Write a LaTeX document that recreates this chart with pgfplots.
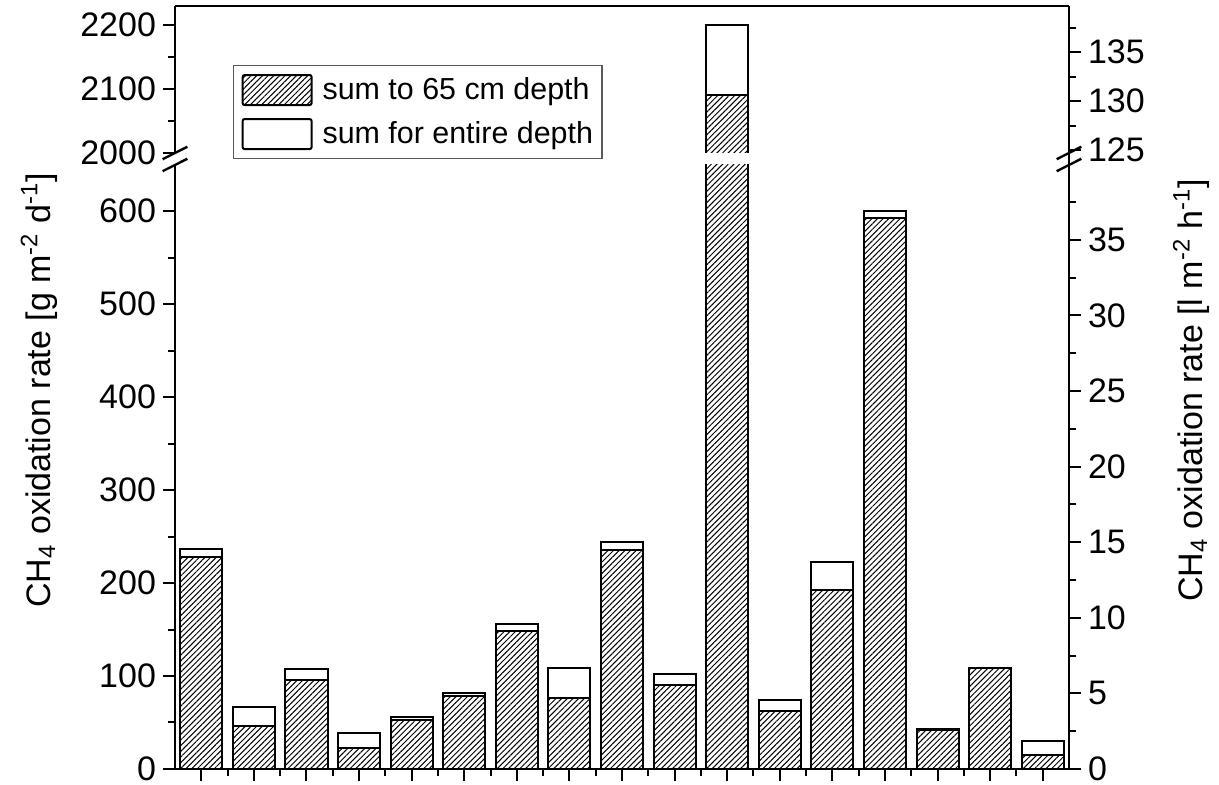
\documentclass[border=0pt]{standalone}
\usepackage{fontspec}
\setmainfont{Liberation Sans}
\usepackage{pgfplots}
\usepackage{pgfplotstable}
\pgfplotsset{compat=1.18}
\usetikzlibrary{patterns.meta}

\pgfplotstableread{
idx hatch total
0  227.6 237
1  46    67
2  95.4  108
3  22.6  38.7
4  53    56
5  79    82
6  148   156
7  76    109
8  236   243.7
9  90    102.5
10 2090  2200
11 62.7  74.5
12 193   223
13 593   600
14 41.6  43.4
15 109   109
16 15.4  29.8
}\datatable

% the one bar that reaches the upper (broken) part of the axis
\pgfplotstableread{
idx hatch total
10 2090  2200
}\bigbar

\tikzset{hatchfill/.style={pattern={Lines[angle=45,distance=2pt,line width=0.5pt]}, pattern color=black}}

\pgfplotsset{
  base/.style={
    scale only axis, width=447pt,
    xmin=-0.5, xmax=16.5,
    ybar, bar width=0.8,
    axis line style={-, line width=1.2pt},
    tick align=outside,
    major tick length=6pt, minor tick length=3.5pt,
    every tick/.style={black, line width=1pt},
    tick label style={font=\fontsize{17}{17}\selectfont},
    /pgf/number format/assume math mode=true,
    /pgf/number format/1000 sep={},
  },
}

\begin{document}
\begin{tikzpicture}
% lower left axis
\begin{axis}[base, at={(0,0)}, anchor=south west, height=302pt,
  ymin=0, ymax=649.5,
  axis x line*=bottom, axis y line*=left,
  tick align=outside,
  xtick={0,...,16}, xticklabels={}, minor xtick={0.5,1.5,...,15.5},
  ytick={0,100,...,600}, minor ytick={50,150,...,550},
  ylabel={CH\textsubscript{4} oxidation rate [g m\textsuperscript{-2} d\textsuperscript{-1}]},
  ylabel style={at={(axis description cs:-0.1398,0.627)}, anchor=base, font=\fontsize{17}{17}\selectfont},
]
\addplot[bar shift=0pt, fill=white, draw=black, line width=1pt] table[x=idx,y=total]{\datatable};
\addplot[bar shift=0pt, hatchfill, draw=black, line width=1pt] table[x=idx,y=hatch]{\datatable};
\end{axis}
% lower right axis
\begin{axis}[base, at={(0,0)}, anchor=south west, height=302pt,
  ymin=0, ymax=39.95,
  axis y line*=right, axis x line=none,
  tick align=outside,
  ytick={0,5,...,35}, minor ytick={2.5,7.5,...,37.5},
  ylabel={CH\textsubscript{4} oxidation rate [l m\textsuperscript{-2} h\textsuperscript{-1}]},
  ylabel style={at={(axis description cs:1.1488,0.627)}, anchor=base, font=\fontsize{17}{17}\selectfont},
]
\addplot[draw=none, forget plot] coordinates {(0,0)};
\end{axis}
% upper left axis
\begin{axis}[base, at={(0,308pt)}, anchor=south west, height=73.5pt,
  ymin=2000, ymax=2229.7,
  axis x line*=top, axis y line*=left,
  tick align=outside,
  xtick=\empty,
  ytick={2000,2100,2200}, minor ytick={2050,2150},
  legend cell align=left,
  legend image code/.code={\draw[#1, line width=1pt, rounded corners=1pt] (0pt,-7.5pt) rectangle (34.5pt,7.5pt);},
  legend style={at={(axis description cs:0.0649,0.599)}, anchor=north west,
    draw=black!65, line width=0.6pt, font=\fontsize{15.2}{15.2}\selectfont,
    inner xsep=4pt, inner ysep=4pt, row sep=5.5pt,
    nodes={inner xsep=0.5pt, inner ysep=2pt},
    /tikz/every odd column/.style={column sep=4.5pt}},
]
\addplot[bar shift=0pt, fill=white, draw=none, forget plot] table[x=idx,y=total]{\bigbar};
\addplot[bar shift=0pt, hatchfill, draw=none, forget plot] table[x=idx,y=hatch]{\bigbar};
% outline of the cut bar (open at the break)
\addplot[sharp plot, black, line width=1pt, forget plot] coordinates {(9.6,1980) (9.6,2200) (10.4,2200) (10.4,1980)};
\addplot[sharp plot, black, line width=1pt, forget plot] coordinates {(9.6,2090) (10.4,2090)};
\addlegendimage{hatchfill, draw=black}
\addlegendentry{sum to 65 cm depth}
\addlegendimage{fill=white, draw=black}
\addlegendentry{sum for entire depth}
\end{axis}
% upper right axis
\begin{axis}[base, at={(0,308pt)}, anchor=south west, height=73.5pt,
  ymin=124.7, ymax=139.7,
  axis y line*=right, axis x line=none,
  tick align=outside,
  ytick={125,130,135}, minor ytick={127.5,132.5,137.5},
]
\addplot[draw=none, forget plot] coordinates {(0,130)};
\end{axis}
% axis break marks
\foreach \yy in {308pt,302pt} {
  \draw[line width=1.2pt] ([xshift=-6.15pt,yshift=-3.1pt]0,\yy) -- ([xshift=6.15pt,yshift=3.1pt]0,\yy);
  \draw[line width=1.2pt] ([xshift=-6.15pt,yshift=-3.1pt]447pt,\yy) -- ([xshift=6.15pt,yshift=3.1pt]447pt,\yy);
}
\draw[line width=1.2pt] (447pt,302pt) -- (447pt,308pt);
\pgfresetboundingbox
\path (-87.5pt,-8pt) rectangle (522pt,384.5pt);
\end{tikzpicture}
\end{document}
